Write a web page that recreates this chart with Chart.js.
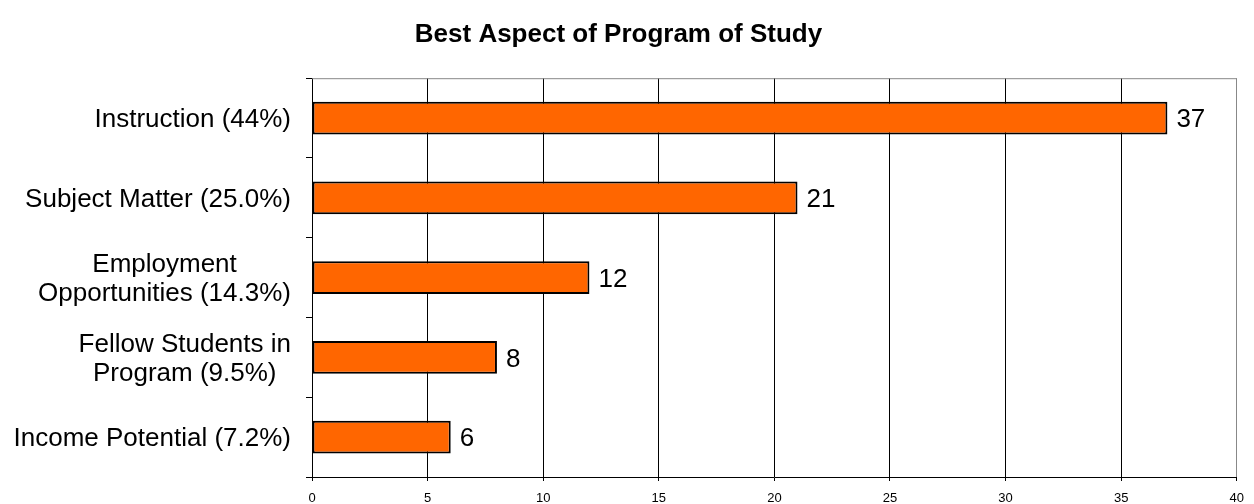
<!DOCTYPE html>
<html>
<head>
<meta charset="utf-8">
<script src="https://cdn.jsdelivr.net/npm/chart.js@4.4.1/dist/chart.umd.min.js"></script>
<style>
  html, body { margin: 0; padding: 0; background: #fff; }
  #wrap { width: 1254px; height: 504px; }
</style>
</head>
<body>
<div id="wrap"><canvas id="chart"></canvas></div>
<script>
// responses per aspect, top to bottom
const categories = [
  ["Instruction (44%)"],
  ["Subject Matter (25.0%)"],
  ["Employment", "Opportunities (14.3%)"],
  ["Fellow Students in", "Program (9.5%)"],
  ["Income Potential (7.2%)"]
];
const counts = [37, 21, 12, 8, 6];
const xTicks = [0, 5, 10, 15, 20, 25, 30, 35, 40];

const FONT = "Arial, 'Liberation Sans', sans-serif";

// category names, each block centred on itself and right-aligned to the axis
const yLabelsPlugin = {
  id: "yLabels",
  afterDraw(chart) {
    const ctx = chart.ctx;
    const y = chart.scales.y;
    const right = chart.chartArea.left - 21;
    ctx.save();
    ctx.font = "26px " + FONT;
    ctx.fillStyle = "#000";
    ctx.textBaseline = "middle";
    categories.forEach((lines, i) => {
      const cy = y.getPixelForValue(i) + 2;
      const lh = 29;
      if (lines.length === 1) {
        ctx.textAlign = "right";
        ctx.fillText(lines[0], right, cy);
        return;
      }
      const widest = Math.max(...lines.map(l => ctx.measureText(l).width));
      const cx = right - widest / 2;
      ctx.textAlign = "center";
      const top = cy - (lh * (lines.length - 1)) / 2;
      lines.forEach((l, k) => ctx.fillText(l, cx, top + k * lh));
    });
    ctx.restore();
  }
};

// count printed after each bar, plus the grey frame on top
const valueLabelsPlugin = {
  id: "valueLabels",
  afterDatasetsDraw(chart) {
    const ctx = chart.ctx;
    const area = chart.chartArea;
    ctx.save();
    ctx.strokeStyle = "#888";
    ctx.lineWidth = 1;
    ctx.beginPath();
    ctx.moveTo(area.left, area.top + 0.5);
    ctx.lineTo(area.right, area.top + 0.5);
    ctx.stroke();

    ctx.font = "26px " + FONT;
    ctx.fillStyle = "#000";
    ctx.textAlign = "left";
    ctx.textBaseline = "middle";
    chart.getDatasetMeta(0).data.forEach((bar, i) => {
      ctx.fillText(String(counts[i]), bar.x + 9, bar.y + 2);
    });
    ctx.restore();
  }
};

new Chart(document.getElementById("chart"), {
  type: "bar",
  data: {
    labels: categories.map(c => c.join(" ")),
    datasets: [{
      data: counts,
      backgroundColor: "#FF6600",
      borderColor: "#000",
      borderWidth: 2,
      borderSkipped: false,
      categoryPercentage: 1,
      barPercentage: 0.41
    }]
  },
  options: {
    indexAxis: "y",
    responsive: true,
    maintainAspectRatio: false,
    animation: false,
    layout: { padding: { left: 0, right: 17, top: 0, bottom: 0 } },
    plugins: {
      legend: { display: false },
      tooltip: { enabled: false },
      title: {
        display: true,
        text: "Best Aspect of Program of Study",
        color: "#000",
        font: { family: FONT, size: 26, weight: "bold" },
        padding: { top: 19, bottom: 28 }
      }
    },
    scales: {
      x: {
        min: 0,
        max: 40,
        afterBuildTicks(scale) {
          scale.ticks = xTicks.map(v => ({ value: v }));
        },
        afterFit(scale) { scale.height = 27; },
        border: { display: true, color: "#000", width: 1 },
        grid: {
          color: c => (c.tick && c.tick.value === 40 ? "#888" : "#000"),
          tickColor: "#000",
          lineWidth: 1,
          tickLength: 4
        },
        ticks: {
          color: "#000",
          font: { family: FONT, size: 13 },
          padding: 10,
          maxRotation: 0
        }
      },
      y: {
        afterFit(scale) { scale.width = 312; },
        border: { display: true, color: "#000", width: 1 },
        grid: {
          offset: true,
          drawOnChartArea: false,
          color: "#000",
          tickLength: 6
        },
        ticks: { display: false }
      }
    }
  },
  plugins: [yLabelsPlugin, valueLabelsPlugin]
});
</script>
</body>
</html>
